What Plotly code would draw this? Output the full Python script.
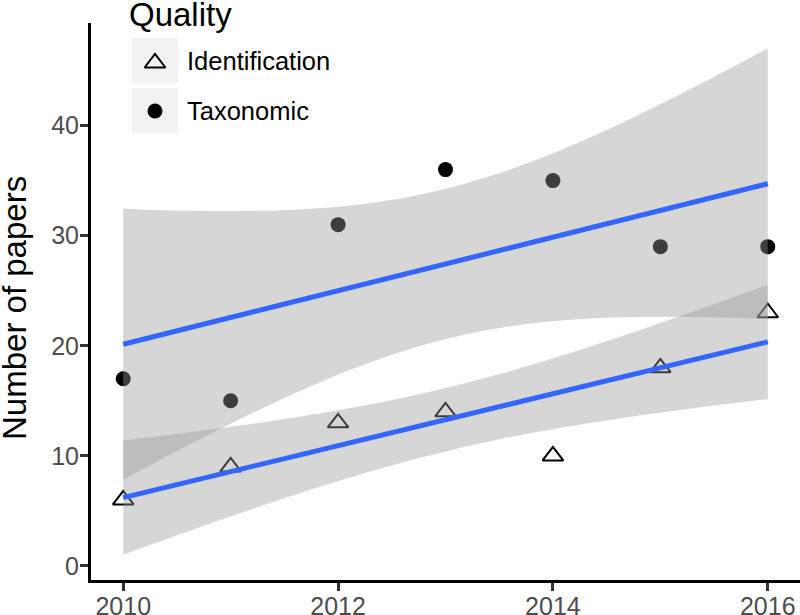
import numpy as np
import plotly.graph_objects as go

# ---- data ----
years = [2010, 2011, 2012, 2013, 2014, 2015, 2016]
identification = [6, 9, 13, 14, 10, 18, 23]
taxonomic = [17, 15, 31, 36, 35, 29, 29]
series_names = ["Identification", "Taxonomic"]
x_ticks = [2010, 2012, 2014, 2016]
y_ticks = [0, 10, 20, 30, 40]
T_975_DF5 = 2.570582  # t quantile for 95% CI, n-2 = 5 df

FONT = "Liberation Sans, Arial, Helvetica, sans-serif"
BLUE = "#3366FF"
RIBBON = "rgba(153,153,153,0.4)"


def lm_band(x, y, n_out=80):
    x = np.asarray(x, float)
    y = np.asarray(y, float)
    n = len(x)
    xb = x.mean()
    sxx = ((x - xb) ** 2).sum()
    b = ((x - xb) * (y - y.mean())).sum() / sxx
    a = y.mean() - b * xb
    s = np.sqrt(((y - (a + b * x)) ** 2).sum() / (n - 2))
    xs = np.linspace(x.min(), x.max(), n_out)
    fit = a + b * xs
    se = s * np.sqrt(1 / n + (xs - xb) ** 2 / sxx)
    return xs, fit, fit - T_975_DF5 * se, fit + T_975_DF5 * se


fig = go.Figure()

# points (drawn first, under ribbons)
fig.add_trace(go.Scatter(x=years, y=identification, mode="markers",
                         marker=dict(symbol="triangle-up-open", size=18, color="black",
                                     line=dict(width=2, color="black")),
                         showlegend=False, cliponaxis=False))
fig.add_trace(go.Scatter(x=years, y=taxonomic, mode="markers",
                         marker=dict(symbol="circle", size=15, color="black"),
                         showlegend=False, cliponaxis=False))

lows, highs = [], []
for ys in (identification, taxonomic):
    xs, fit, lo, hi = lm_band(years, ys)
    lows.append(lo.min())
    highs.append(hi.max())
    fig.add_trace(go.Scatter(x=np.concatenate([xs, xs[::-1]]),
                             y=np.concatenate([hi, lo[::-1]]),
                             fill="toself", fillcolor=RIBBON, mode="none",
                             line=dict(width=0), showlegend=False, hoverinfo="skip"))
    fig.add_trace(go.Scatter(x=xs, y=fit, mode="lines",
                             line=dict(color=BLUE, width=5), showlegend=False))

ymin = min(min(lows), min(identification))
ymax = max(max(highs), max(taxonomic))
pad = 0.05 * (ymax - ymin)
xpad = 0.05 * (max(years) - min(years))

# ---- layout geometry (pixels); body margin removed below ----
W, H = 800, 615
L, T = 91, 23
R = 0
B = H - 580
PW, PH = W - L - R, H - T - B


def px(x):
    return (x - L) / PW


def py(y):
    return (H - B - y) / PH


# manual ggplot-like legend keys (overlay axes in page pixels)
fig.add_trace(go.Scatter(x=[155], y=[63], xaxis="x2", yaxis="y2", mode="markers",
                         marker=dict(symbol="triangle-up-open", size=18, color="black",
                                     line=dict(width=2, color="black")),
                         showlegend=False, hoverinfo="skip", cliponaxis=False))
fig.add_trace(go.Scatter(x=[155], y=[111], xaxis="x2", yaxis="y2", mode="markers",
                         marker=dict(symbol="circle", size=15, color="black"),
                         showlegend=False, hoverinfo="skip", cliponaxis=False))

shapes = [
    dict(type="rect", xref="paper", yref="paper", x0=px(132), x1=px(178), y0=py(38), y1=py(83),
         fillcolor="#F2F2F2", line=dict(width=0), layer="below"),
    dict(type="rect", xref="paper", yref="paper", x0=px(132), x1=px(178), y0=py(88), y1=py(133),
         fillcolor="#F2F2F2", line=dict(width=0), layer="below"),
]
annotations = [
    dict(text="Quality", xref="paper", yref="paper", x=px(127), y=py(15), xanchor="left",
         yanchor="middle", showarrow=False, font=dict(family=FONT, size=33, color="black")),
    dict(text=series_names[0], xref="paper", yref="paper", x=px(185), y=py(61), xanchor="left",
         yanchor="middle", showarrow=False, font=dict(family=FONT, size=25.5, color="black")),
    dict(text=series_names[1], xref="paper", yref="paper", x=px(185), y=py(111), xanchor="left",
         yanchor="middle", showarrow=False, font=dict(family=FONT, size=25.5, color="black")),
    dict(text="Number of papers", xref="paper", yref="paper", x=px(14), y=py(308),
         xanchor="center", yanchor="middle", textangle=-90, showarrow=False,
         font=dict(family=FONT, size=33, color="black")),
]

fig.update_layout(
    width=W, height=H,
    margin=dict(l=L, r=R, t=T, b=B, autoexpand=False),
    paper_bgcolor="white", plot_bgcolor="white",
    font=dict(family=FONT),
    showlegend=False,
    shapes=shapes, annotations=annotations,
    xaxis=dict(range=[min(years) - xpad, max(years) + xpad], tickvals=x_ticks,
               automargin=False,
               showgrid=False, zeroline=False, showline=True, linecolor="black", linewidth=3,
               ticks="outside", ticklen=8, tickwidth=3, tickcolor="#333333",
               ticklabelstandoff=-6,
               tickfont=dict(family=FONT, size=25, color="#4D4D4D")),
    yaxis=dict(range=[ymin - pad, ymax + pad], tickvals=y_ticks,
               automargin=False,
               showgrid=False, zeroline=False, showline=True, linecolor="black", linewidth=3,
               ticks="outside", ticklen=8, tickwidth=3, tickcolor="#333333",
               ticklabelstandoff=-4,
               tickfont=dict(family=FONT, size=25, color="#4D4D4D")),
    xaxis2=dict(overlaying="x", range=[L, W - R], visible=False, fixedrange=True),
    yaxis2=dict(overlaying="y", range=[H - B, T], visible=False, fixedrange=True),
)

fig.write_html("out.html", config={"displayModeBar": False},
               post_script="document.body.style.margin='0';document.body.style.overflow='hidden';")
